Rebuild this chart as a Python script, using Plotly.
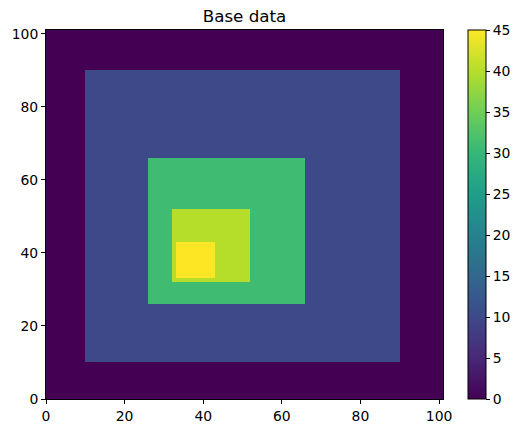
"""
Nested squares heatmap, viridis, matplotlib-like look.
"""

import numpy as np
import plotly.graph_objects as go

GRID_SIZE = 101

# each square: lower edge, upper edge (same on x and y), value painted inside
square_lo = [10, 26, 32, 33]
square_hi = [90, 66, 52, 43]
square_val = [10, 31, 40, 45]

axis_ticks = [0, 20, 40, 60, 80, 100]
cbar_ticks = [0, 5, 10, 15, 20, 25, 30, 35, 40, 45]

z = np.zeros((GRID_SIZE, GRID_SIZE))
for lo, hi, v in zip(square_lo, square_hi, square_val):
    z[lo:hi, lo:hi] = v

FONT = "DejaVu Sans"
TICK_FONT = dict(family=FONT, size=13.9, color="black")

fig = go.Figure(go.Heatmap(
    z=z,
    x0=0.5, dx=1,
    y0=0.5, dy=1,
    colorscale="Viridis",
    zmin=0, zmax=45,
    colorbar=dict(
        thickness=18, len=1, lenmode="fraction",
        x=1.063, xanchor="left", xpad=0,
        y=0.5, yanchor="middle", ypad=0,
        outlinewidth=1, outlinecolor="black",
        tickvals=cbar_ticks, ticks="outside", ticklen=4,
        tickcolor="black", tickfont=TICK_FONT,
    ),
    hovertemplate="x=%{x}<br>y=%{y}<br>%{z}<extra></extra>",
))

axis_style = dict(
    showgrid=False, zeroline=False, automargin=False,
    showline=True, mirror=True, linecolor="black", linewidth=1,
    ticks="outside", ticklen=4, tickcolor="black",
    tickfont=TICK_FONT,
    tickvals=axis_ticks,
)

# page body has an 8px margin, so the figure is shrunk by that much
fig.update_layout(
    width=515, height=425,
    margin=dict(l=38, r=80, t=22, b=34),
    paper_bgcolor="white", plot_bgcolor="white",
    title=dict(text="Base data", xref="paper", x=0.5, xanchor="center",
               yref="container", y=0.98, yanchor="middle",
               font=dict(family=FONT, size=16.7, color="black")),
    xaxis=dict(range=[0, 101], **axis_style),
    yaxis=dict(range=[0, 101], **axis_style),
)

fig.write_html("out.html")
